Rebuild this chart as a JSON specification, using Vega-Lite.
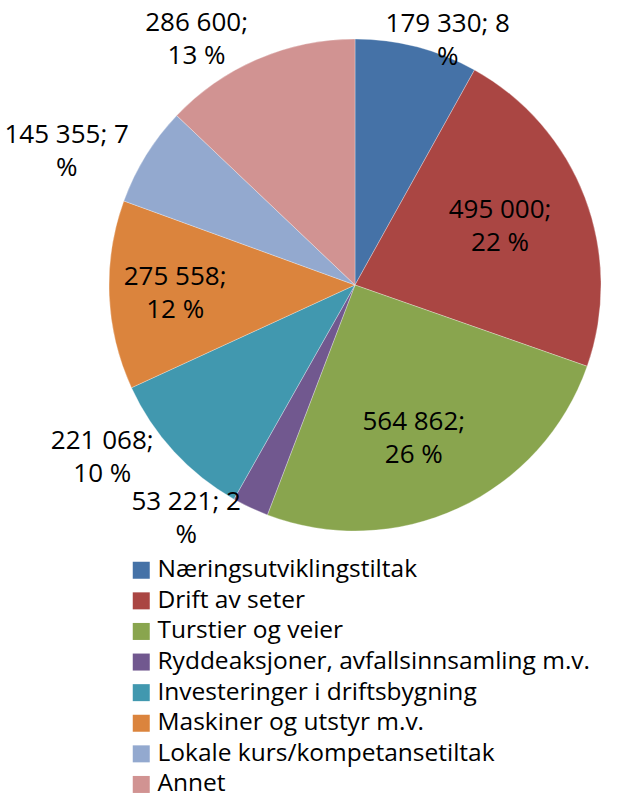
{
  "$schema": "https://vega.github.io/schema/vega-lite/v6.json",
  "width": 522,
  "height": 470,
  "autosize": "none",
  "padding": {"left": 94, "top": 50, "right": 5, "bottom": 281},
  "background": "white",
  "config": {"view": {"stroke": null}, "font": "Open Sans"},
  "data": {
    "values": [
      {"idx": 1, "category": "Næringsutviklingstiltak", "value": 179330, "label": "179 330; 8\n%"},
      {"idx": 2, "category": "Drift av seter", "value": 495000, "label": "495 000;\n22 %"},
      {"idx": 3, "category": "Turstier og veier", "value": 564862, "label": "564 862;\n26 %"},
      {"idx": 4, "category": "Ryddeaksjoner, avfallsinnsamling m.v.", "value": 53221, "label": "53 221; 2\n%"},
      {"idx": 5, "category": "Investeringer i driftsbygning", "value": 221068, "label": "221 068;\n10 %"},
      {"idx": 6, "category": "Maskiner og utstyr m.v.", "value": 275558, "label": "275 558;\n12 %"},
      {"idx": 7, "category": "Lokale kurs/kompetansetiltak", "value": 145355, "label": "145 355; 7\n%"},
      {"idx": 8, "category": "Annet", "value": 286600, "label": "286 600;\n13 %"}
    ]
  },
  "transform": [
    {"stack": "value", "groupby": [], "sort": [{"field": "idx", "order": "ascending"}], "as": ["v0", "v1"]},
    {"calculate": "(datum.v0 + datum.v1) / 2", "as": "mid"}
  ],
  "layer": [
    {
      "mark": {"type": "arc", "outerRadius": 246, "stroke": "white", "strokeWidth": 0.3},
      "encoding": {
        "theta": {"field": "v1", "type": "quantitative", "stack": null, "scale": {"nice": false, "zero": true}},
        "theta2": {"field": "v0"},
        "color": {
          "field": "category",
          "type": "nominal",
          "sort": null,
          "scale": {"range": ["#4572A7", "#AA4643", "#89A54E", "#71588F", "#4198AF", "#DB843D", "#93A9CF", "#D19392"]},
          "legend": {
            "title": null,
            "orient": "none",
            "legendX": 35,
            "legendY": 508,
            "symbolType": "square",
            "symbolSize": 289,
            "symbolStrokeWidth": 0,
            "labelFontSize": 24.5,
            "labelFont": "Open Sans",
            "labelColor": "#000000",
            "labelLimit": 600,
            "labelOffset": 4,
            "rowPadding": 5.6,
            "padding": 0
          }
        },
        "order": {"field": "idx", "type": "quantitative"}
      }
    },
    {
      "transform": [{"filter": {"field": "idx", "oneOf": [2, 3, 6]}}],
      "mark": {"type": "text", "radius": 168, "dy": -15, "dx": -12, "fontSize": 26, "lineBreak": "\n", "lineHeight": 33, "align": "center", "baseline": "middle", "color": "#000000"},
      "encoding": {
        "theta": {"field": "mid", "type": "quantitative", "stack": null},
        "text": {"field": "label"}
      }
    },
    {
      "transform": [{"filter": {"field": "idx", "equal": 1}}],
      "mark": {"type": "text", "radius": 270, "dx": 25, "fontSize": 26, "lineBreak": "\n", "lineHeight": 33, "align": "center", "baseline": "middle", "color": "#000000"},
      "encoding": {
        "theta": {"field": "mid", "type": "quantitative", "stack": null},
        "text": {"field": "label"}
      }
    },
    {
      "transform": [{"filter": {"field": "idx", "oneOf": [7, 8]}}],
      "mark": {"type": "text", "radius": 285, "dx": -46, "fontSize": 26, "lineBreak": "\n", "lineHeight": 33, "align": "center", "baseline": "middle", "color": "#000000"},
      "encoding": {
        "theta": {"field": "mid", "type": "quantitative", "stack": null},
        "text": {"field": "label"}
      }
    },
    {
      "transform": [{"filter": {"field": "idx", "oneOf": [4, 5]}}],
      "mark": {"type": "text", "radius": 270, "dx": -54, "dy": -27, "fontSize": 26, "lineBreak": "\n", "lineHeight": 33, "align": "center", "baseline": "middle", "color": "#000000"},
      "encoding": {
        "theta": {"field": "mid", "type": "quantitative", "stack": null},
        "text": {"field": "label"}
      }
    }
  ]
}
